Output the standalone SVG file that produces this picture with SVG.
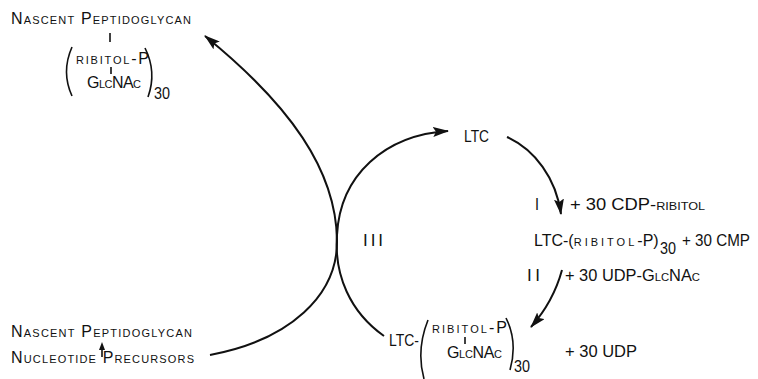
<svg xmlns="http://www.w3.org/2000/svg" width="758" height="379" viewBox="0 0 758 379">
<style>
.t{font-family:"Liberation Sans",Arial,sans-serif;font-size:17px;fill:#111}
.s{font-family:"Liberation Sans",Arial,sans-serif;font-size:16px;fill:#111;font-variant:small-caps}
.w{letter-spacing:3px}
.c{fill:none;stroke:#111;stroke-width:2}
.b{fill:none;stroke:#111;stroke-width:1.6}
</style>
<defs>
<marker id="ah" markerUnits="userSpaceOnUse" markerWidth="17" markerHeight="10" refX="15" refY="5" orient="auto">
<path d="M0,0 L16,5 L0,10 L3,5 z" fill="#111"/>
</marker>
</defs>
<rect width="758" height="379" fill="#fff"/>
<g id="nascent-top">
<text class="s" x="11" y="24" textLength="180">Nascent Peptidoglycan</text>
<line class="b" x1="110" y1="33" x2="110" y2="42"/>
<path class="b" d="M72,47 Q61,72 72,96"/>
<text class="s" x="76" y="64" textLength="73">ribitol-P</text>
<line class="b" x1="111" y1="67" x2="111" y2="74"/>
<text class="s" x="87" y="88" textLength="54">GlcNAc</text>
<path class="b" d="M145,48 Q157,72 148,97"/>
<text class="t" x="154" y="99" textLength="16" lengthAdjust="spacingAndGlyphs">30</text>
</g>
<g id="nascent-bottom">
<text class="s" x="11" y="337" textLength="181">Nascent Peptidoglycan</text>
<text class="s" x="11" y="363" textLength="183">Nucleotide Precursors</text>
<line x1="102" y1="357" x2="102" y2="348" stroke="#111" stroke-width="1.6"/>
<path d="M99,350 L102,342 L105,350 z" fill="#111"/>
</g>
<g id="ltc">
<text class="t" x="464" y="142" textLength="25" lengthAdjust="spacingAndGlyphs">LTC</text>
</g>
<g id="step-i">
<text class="t" x="535" y="210" textLength="4" lengthAdjust="spacingAndGlyphs">I</text>
<text class="s" x="570" y="210" textLength="135" lengthAdjust="spacingAndGlyphs">+ 30 CDP-ribitol</text>
</g>
<g id="ltc-ribitol">
<text class="s" x="534" y="246">LTC-(<tspan class="w">ribitol</tspan>-P)</text>
<text class="t" x="660" y="254" textLength="16" lengthAdjust="spacingAndGlyphs">30</text>
<text class="t" x="682" y="246" textLength="68" lengthAdjust="spacingAndGlyphs">+ 30 CMP</text>
</g>
<g id="step-ii">
<text class="t" x="527" y="281" textLength="13">II</text>
<text class="s" x="565" y="281" textLength="135" lengthAdjust="spacingAndGlyphs">+ 30 UDP-GlcNAc</text>
</g>
<g id="step-iii">
<text class="t" x="363" y="246" textLength="20">III</text>
</g>
<g id="ltc-glcnac">
<text class="t" x="389" y="346" textLength="30" lengthAdjust="spacingAndGlyphs">LTC-</text>
<path class="b" d="M428,320 Q416,350 424,379"/>
<text class="s" x="432" y="333" textLength="75">ribitol-P</text>
<line class="b" x1="465" y1="337" x2="465" y2="344"/>
<text class="s" x="447" y="358" textLength="55">GlcNAc</text>
<path class="b" d="M506,318 Q518,342 510,370"/>
<text class="t" x="514" y="372" textLength="16" lengthAdjust="spacingAndGlyphs">30</text>
<text class="t" x="565" y="357" textLength="72" lengthAdjust="spacingAndGlyphs">+ 30 UDP</text>
</g>
<g id="connectors">
<path class="c" d="M210,355 C290,340 338,295 337,240 C336,170 290,105 205,36" marker-end="url(#ah)"/>
<path class="c" d="M384,336 C350,312 334,275 337,235 C340,175 385,135 448,131" marker-end="url(#ah)"/>
<path class="c" d="M507,137 C535,150 556,178 561,214" marker-end="url(#ah)"/>
<path class="c" d="M562,270 C556,292 546,310 531,327" marker-end="url(#ah)"/>
</g>
</svg>
